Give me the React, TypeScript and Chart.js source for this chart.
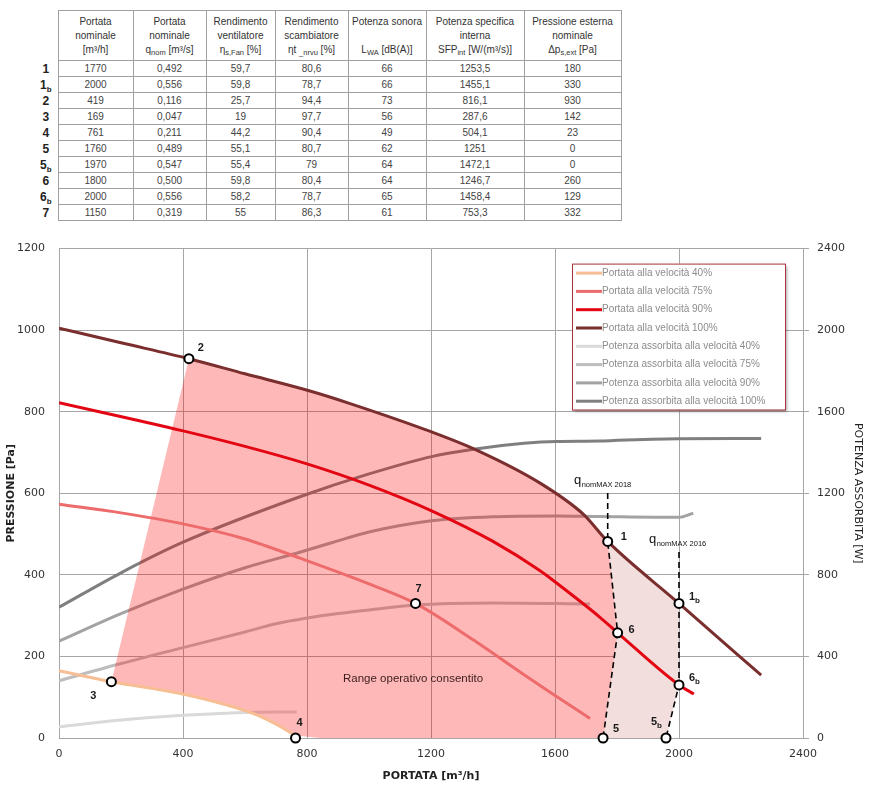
import React, { useEffect, useRef } from 'react';
import { Chart, registerables } from 'chart.js';
Chart.register(...registerables);

// ---------------- table data ----------------
const tableRows = ['1', '1b', '2', '3', '4', '5', '5b', '6', '6b', '7'];
const tPortata = [1770, 2000, 419, 169, 761, 1760, 1970, 1800, 2000, 1150];
const tQnom = [0.492, 0.556, 0.116, 0.047, 0.211, 0.489, 0.547, 0.5, 0.556, 0.319];
const tEtaFan = [59.7, 59.8, 25.7, 19, 44.2, 55.1, 55.4, 59.8, 58.2, 55];
const tEtaT = [80.6, 78.7, 94.4, 97.7, 90.4, 80.7, 79, 80.4, 78.7, 86.3];
const tLwa = [66, 66, 73, 56, 49, 62, 64, 64, 65, 61];
const tSfp = [1253.5, 1455.1, 816.1, 287.6, 504.1, 1251, 1472.1, 1246.7, 1458.4, 753.3];
const tDp = [180, 330, 930, 142, 23, 0, 0, 260, 129, 332];

// ---------------- chart data ----------------
// Pressure curves (left axis, Pa) vs flow (m3/h)
const flow40 = [0, 169, 400, 627, 700, 763];
const pres40 = [165, 138, 108, 60, 34, 6];
const flow75 = [0, 200, 400, 600, 777, 1000, 1150, 1337, 1500, 1600, 1713];
const pres75 = [573, 552, 525, 488, 441, 378, 330, 240, 155, 104, 48];
const flow90 = [0, 400, 600, 800, 1000, 1202, 1400, 1552, 1605, 1745, 1802, 2000, 2048];
const pres90 = [822, 753, 715, 672, 620, 557, 482, 410, 380, 296, 258, 130, 108];
const flow100 = [0, 200, 419, 600, 804, 939, 1200, 1347, 1552, 1691, 1770, 2000, 2265];
const pres100 = [1005, 969, 930, 893, 852, 820, 751, 706, 625, 549, 482, 330, 154];

// Absorbed power curves (right axis, W)
const flowW40 = [0, 200, 400, 600, 767];
const powW40 = [55, 88, 111, 125, 128];
const flowW75 = [0, 200, 400, 600, 700, 800, 900, 1000, 1150, 1400, 1713];
const powW75 = [281, 365, 443, 520, 560, 588, 610, 628, 652, 662, 657];
const flowW90 = [0, 200, 400, 600, 777, 885, 1000, 1202, 1400, 1605, 1745, 2000, 2046];
const powW90 = [475, 610, 730, 835, 911, 960, 1010, 1065, 1085, 1089, 1086, 1082, 1102];
const flowW100 = [0, 200, 400, 777, 1000, 1202, 1337, 1500, 1605, 1745, 1800, 2000, 2265];
const powW100 = [641, 810, 960, 1183, 1295, 1380, 1416, 1445, 1454, 1456, 1460, 1468, 1469];

// Operating points
const ptLabels = ['1', '1b', '2', '3', '4', '5', '5b', '6', '6b', '7'];
const ptFlow = [1770, 2000, 419, 169, 763, 1755, 1958, 1802, 2000, 1150];
const ptPres = [482, 330, 930, 138, 0, 0, 0, 258, 130, 330];

// Dashed limit lines
const dash2018Flow = [1770, 1770, 1802, 1755];
const dash2018Pres = [601, 482, 258, 0];
const dash2016Flow = [2000, 2000, 2000, 1958];
const dash2016Pres = [456, 330, 130, 0];

// Allowed operating range (polygon) and extended range
const rangeFlow = [169, 400, 627, 700, 763, 842, 1755, 1802, 1770, 1691, 1552, 1347, 1200, 939, 804, 600, 419, 169];
const rangePres = [138, 108, 60, 34, 6, 0, 0, 258, 482, 549, 625, 706, 751, 820, 852, 893, 930, 138];
const extFlow = [1770, 2000, 2000, 1958, 1755, 1802, 1770];
const extPres = [482, 330, 130, 0, 0, 258, 482];

// Text annotations (data coordinates)
const qLabelYears = ['2018', '2016'];
const qLabelFlow = [1661, 1903];
const qLabelPres = [622, 477];
const rangeText = 'Range operativo consentito';
const rangeTextFlow = 1142;
const rangeTextPres = 145;

const legendLabels = [
  'Portata alla velocità 40%',
  'Portata alla velocità 75%',
  'Portata alla velocità 90%',
  'Portata alla velocità 100%',
  'Potenza assorbita alla velocità 40%',
  'Potenza assorbita alla velocità 75%',
  'Potenza assorbita alla velocità 90%',
  'Potenza assorbita alla velocità 100%',
];

// ---------------- styles ----------------
const curveColors = ['#F7BE94', '#EE6B6B', '#E30613', '#7A2E2E', '#D9D9D9', '#BDBDBD', '#A3A3A3', '#7F7F7F'];
const labelOffsets: [number, number][] = [
  [16, -4], [13, -6], [12, -11], [-18, 14], [4, -15], [13, -9], [-12, -16], [14, -3], [13, -7], [3, -14],
];
const FONT = "'DejaVu Sans', sans-serif";
const LFONT = "'Liberation Sans', Arial, sans-serif";

const zip = (xs: number[], ys: number[]) => xs.map((x, i) => ({ x, y: ys[i] }));

const fmt = (v: number) => String(v).replace('.', ',');
const fmtQ = (v: number) => v.toFixed(3).replace('.', ',');

function drawWithSub(ctx: CanvasRenderingContext2D, label: string, cx: number, cy: number, size: number, weight: string) {
  const main = label[0];
  const sub = label.slice(1);
  ctx.font = `${weight} ${size}px ${LFONT}`;
  ctx.textAlign = 'center';
  ctx.textBaseline = 'middle';
  ctx.fillText(main, cx, cy);
  if (sub) {
    const w = ctx.measureText(main).width;
    ctx.font = `${weight} ${Math.round(size * 0.7)}px ${LFONT}`;
    ctx.textAlign = 'left';
    ctx.fillText(sub, cx + w / 2, cy + size * 0.35);
  }
}

const overlayPlugin = {
  id: 'overlay',
  afterDatasetsDraw(chart: any) {
    const { ctx, scales } = chart;
    const x = scales.x;
    const y = scales.y;
    ctx.save();
    ctx.fillStyle = '#1a1a1a';
    ptLabels.forEach((lab, i) => {
      const px = x.getPixelForValue(ptFlow[i]);
      const py = y.getPixelForValue(ptPres[i]);
      const [dx, dy] = labelOffsets[i];
      drawWithSub(ctx, lab, px + dx, py + dy, 11, 'bold');
    });
    qLabelYears.forEach((yr, i) => {
      const px = x.getPixelForValue(qLabelFlow[i]);
      const py = y.getPixelForValue(qLabelPres[i]);
      ctx.fillStyle = '#111';
      ctx.textAlign = 'left';
      ctx.textBaseline = 'alphabetic';
      ctx.font = `13px ${LFONT}`;
      ctx.fillText('q', px, py);
      const w = ctx.measureText('q').width;
      ctx.font = `7.5px ${LFONT}`;
      ctx.fillText('nomMAX ' + yr, px + w + 0.5, py + 3);
    });
    ctx.fillStyle = '#3a1c1c';
    ctx.font = `11.5px ${LFONT}`;
    ctx.textAlign = 'center';
    ctx.textBaseline = 'middle';
    ctx.fillText(rangeText, x.getPixelForValue(rangeTextFlow), y.getPixelForValue(rangeTextPres));
    ctx.restore();
  },
  afterDraw(chart: any) {
    const { ctx, chartArea } = chart;
    const left = chartArea.right - 231;
    const top = chartArea.top + 15;
    const w = 213;
    const h = 146;
    ctx.save();
    ctx.shadowColor = 'rgba(0,0,0,0.35)';
    ctx.shadowBlur = 3;
    ctx.shadowOffsetX = 2;
    ctx.shadowOffsetY = 2;
    ctx.fillStyle = '#ffffff';
    ctx.fillRect(left, top, w, h);
    ctx.shadowColor = 'transparent';
    ctx.strokeStyle = '#A8343A';
    ctx.lineWidth = 1;
    ctx.strokeRect(left + 0.5, top + 0.5, w, h);
    legendLabels.forEach((lab, i) => {
      const cy = top + 9.5 + i * 18.3;
      ctx.strokeStyle = curveColors[i];
      ctx.lineWidth = 3;
      ctx.beginPath();
      ctx.moveTo(left + 4, cy);
      ctx.lineTo(left + 30, cy);
      ctx.stroke();
      ctx.fillStyle = '#8c8c8c';
      ctx.font = `10px ${LFONT}`;
      ctx.textAlign = 'left';
      ctx.textBaseline = 'middle';
      ctx.fillText(lab, left + 30, cy);
    });
    ctx.restore();
  },
};

function ChartView() {
  const ref = useRef<HTMLCanvasElement | null>(null);
  useEffect(() => {
    if (!ref.current) return;
    const curve = (label: string, xs: number[], ys: number[], color: string, axis: string, order: number) => ({
      label,
      data: zip(xs, ys),
      borderColor: color,
      backgroundColor: color,
      borderWidth: 3,
      pointRadius: 0,
      cubicInterpolationMode: 'monotone',
      fill: false,
      yAxisID: axis,
      order,
    });
    const grid = '#a6a6a6';
    const tickFont = { family: FONT, size: 11 };
    const plain = (v: any) => String(v);
    const chart = new Chart(ref.current, {
      type: 'line',
      data: {
        datasets: [
          {
            label: 'markers',
            data: zip(ptFlow, ptPres),
            showLine: false,
            pointRadius: 4.5,
            pointBorderWidth: 2,
            pointBackgroundColor: '#ffffff',
            pointBorderColor: '#000000',
            yAxisID: 'y',
            clip: false,
            order: 0,
          },
          {
            label: 'dash2018',
            data: zip(dash2018Flow, dash2018Pres),
            borderColor: '#000',
            borderWidth: 1.6,
            borderDash: [6, 4],
            pointRadius: 0,
            tension: 0,
            yAxisID: 'y',
            order: 1,
          },
          {
            label: 'dash2016',
            data: zip(dash2016Flow, dash2016Pres),
            borderColor: '#000',
            borderWidth: 1.6,
            borderDash: [6, 4],
            pointRadius: 0,
            tension: 0,
            yAxisID: 'y',
            order: 1,
          },
          curve(legendLabels[0], flow40, pres40, curveColors[0], 'y', 2),
          curve(legendLabels[1], flow75, pres75, curveColors[1], 'y', 2),
          curve(legendLabels[2], flow90, pres90, curveColors[2], 'y', 2),
          curve(legendLabels[3], flow100, pres100, curveColors[3], 'y', 2),
          {
            label: 'range',
            data: zip(rangeFlow, rangePres),
            borderWidth: 0,
            borderColor: 'rgba(0,0,0,0)',
            backgroundColor: 'rgba(255,0,0,0.28)',
            pointRadius: 0,
            tension: 0,
            fill: 'shape',
            yAxisID: 'y',
            order: 3,
          },
          curve(legendLabels[4], flowW40, powW40, curveColors[4], 'y2', 4),
          curve(legendLabels[5], flowW75, powW75, curveColors[5], 'y2', 4),
          curve(legendLabels[6], flowW90, powW90, curveColors[6], 'y2', 4),
          curve(legendLabels[7], flowW100, powW100, curveColors[7], 'y2', 4),
          {
            label: 'extended',
            data: zip(extFlow, extPres),
            borderWidth: 0,
            borderColor: 'rgba(0,0,0,0)',
            backgroundColor: '#F3DEDE',
            pointRadius: 0,
            tension: 0,
            fill: 'shape',
            yAxisID: 'y',
            order: 5,
          },
        ] as any,
      },
      options: {
        responsive: false,
        animation: false,
        devicePixelRatio: 1,
        events: [],
        layout: { padding: { top: 14, left: 0, right: 0, bottom: 0 } },
        plugins: { legend: { display: false }, tooltip: { enabled: false } },
        scales: {
          x: {
            type: 'linear',
            min: 0,
            max: 2400,
            ticks: { stepSize: 400, padding: 10, color: '#333', font: tickFont, callback: plain },
            grid: { color: grid, drawTicks: false },
            border: { color: grid },
            title: {
              display: true,
              text: 'PORTATA [m³/h]',
              color: '#222',
              font: { family: FONT, size: 11, weight: 'bold' },
              padding: { top: 0, bottom: 7 },
            },
            afterFit: (s: any) => { s.height = 52; },
          },
          y: {
            position: 'left',
            min: 0,
            max: 1200,
            ticks: { stepSize: 200, padding: 14, color: '#333', font: tickFont, callback: plain },
            grid: { color: grid, drawTicks: false },
            border: { color: grid },
            title: {
              display: true,
              text: 'PRESSIONE [Pa]',
              color: '#222',
              font: { family: FONT, size: 11, weight: 'bold' },
              padding: { top: 5, bottom: 0 },
            },
            afterFit: (s: any) => { s.width = 59; },
          },
          y2: {
            position: 'right',
            min: 0,
            max: 2400,
            ticks: { stepSize: 400, padding: 8, color: '#333', font: tickFont, callback: plain },
            grid: { color: grid, drawOnChartArea: false, drawTicks: true, tickLength: 6 },
            border: { color: grid },
            title: {
              display: true,
              text: 'POTENZA ASSORBITA [W]',
              color: '#222',
              font: { family: FONT, size: 11 },
              padding: { top: 8, bottom: 0 },
            },
            afterFit: (s: any) => { s.width = 69; },
          },
        },
      } as any,
      plugins: [overlayPlugin],
    });
    return () => chart.destroy();
  }, []);
  return (
    <canvas
      ref={ref}
      width={872}
      height={562}
      style={{ position: 'absolute', left: 0, top: 228, width: 872, height: 562 }}
    />
  );
}

function RowLabel({ text }: { text: string }) {
  return (
    <span>
      {text[0]}
      {text.length > 1 ? (
        <span style={{ fontSize: 8, position: 'relative', top: 3, lineHeight: 0 }}>{text.slice(1)}</span>
      ) : null}
    </span>
  );
}

function DataTable() {
  const colW = [75, 73, 69, 73, 78, 98, 97];
  const bc = '1px solid #a0a0a0';
  const hd: React.CSSProperties = {
    border: bc,
    fontWeight: 'normal',
    padding: 0,
    lineHeight: '14px',
    verticalAlign: 'middle',
    textAlign: 'center',
    color: '#333',
    height: 49,
  };
  const td: React.CSSProperties = {
    border: bc,
    padding: 0,
    height: 15,
    lineHeight: '14px',
    textAlign: 'center',
    color: '#444',
    overflow: 'hidden',
  };
  const lab: React.CSSProperties = {
    border: 'none',
    padding: 0,
    textAlign: 'center',
    fontWeight: 'bold',
    fontSize: 12,
    color: '#222',
    lineHeight: '14px',
    height: 15,
    overflow: 'visible',
  };
  const sub: React.CSSProperties = { fontSize: 7.5, position: 'relative', top: 2, lineHeight: 0 };
  const rows = tableRows.map((r, i) => [
    fmt(tPortata[i]),
    fmtQ(tQnom[i]),
    fmt(tEtaFan[i]),
    fmt(tEtaT[i]),
    fmt(tLwa[i]),
    fmt(tSfp[i]),
    fmt(tDp[i]),
  ]);
  return (
    <table
      style={{
        position: 'absolute',
        left: 34,
        top: 10,
        borderCollapse: 'collapse',
        tableLayout: 'fixed',
        fontFamily: LFONT,
        fontSize: 10,
      }}
    >
      <colgroup>
        <col style={{ width: 24 }} />
        {colW.map((w, i) => (
          <col key={i} style={{ width: w }} />
        ))}
      </colgroup>
      <thead>
        <tr style={{ height: 50 }}>
          <th style={{ ...lab, height: 49 }}></th>
          <th style={hd}>Portata<br />nominale<br />[m³/h]</th>
          <th style={hd}>Portata<br />nominale<br />q<span style={sub}>nom</span> [m³/s]</th>
          <th style={hd}>Rendimento<br />ventilatore<br />η<span style={sub}>s,Fan</span> [%]</th>
          <th style={hd}>Rendimento<br />scambiatore<br />ηt <span style={sub}>_nrvu</span> [%]</th>
          <th style={hd}>Potenza sonora<br /><br />L<span style={sub}>WA</span> [dB(A)]</th>
          <th style={hd}>Potenza specifica<br />interna<br />SFP<span style={sub}>int</span> [W/(m³/s)]</th>
          <th style={hd}>Pressione esterna<br />nominale<br />Δp<span style={sub}>s,ext</span> [Pa]</th>
        </tr>
      </thead>
      <tbody>
        {rows.map((cells, i) => (
          <tr key={i} style={{ height: 16 }}>
            <td style={lab}><RowLabel text={tableRows[i]} /></td>
            {cells.map((c, j) => (
              <td key={j} style={td}>{c}</td>
            ))}
          </tr>
        ))}
      </tbody>
    </table>
  );
}

export default function App() {
  return (
    <div style={{ position: 'absolute', left: 0, top: 0, width: 872, height: 790, background: '#fff' }}>
      <DataTable />
      <ChartView />
    </div>
  );
}
